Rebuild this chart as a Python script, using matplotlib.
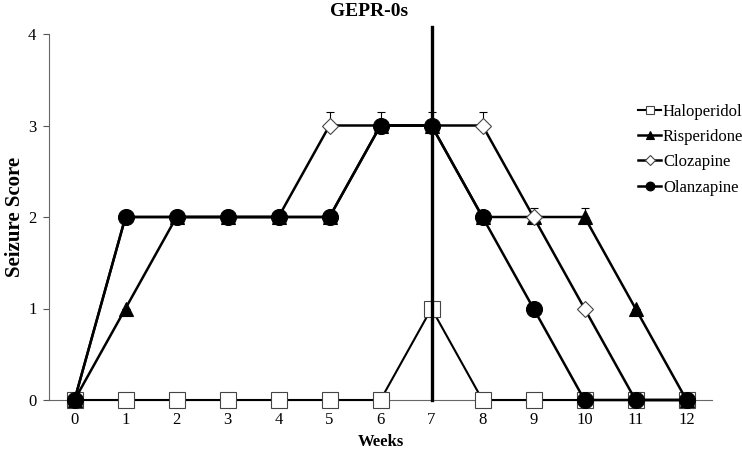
import numpy as np
import matplotlib
matplotlib.use("Agg")
import matplotlib.pyplot as plt

plt.rcParams['font.family'] = ['Liberation Serif', 'DejaVu Serif']

weeks = np.arange(13)
tick_labels = [str(w) for w in weeks]

haloperidol = [0, 0, 0, 0, 0, 0, 0, 1, 0, 0, 0, 0, 0]
risperidone = [0, 1, 2, 2, 2, 2, 3, 3, 2, 2, 2, 1, 0]
clozapine = [0, 2, 2, 2, 2, 3, 3, 3, 3, 2, 1, 0, 0]
olanzapine = [0, 2, 2, 2, 2, 2, 3, 3, 2, 1, 0, 0, 0]

# upper error bars (only the visible caps)
risperidone_err = [0, 0, 0, 0, 0, 0, 0, 0, 0, 0, 0.1, 0, 0]
clozapine_err = [0, 0, 0, 0, 0, 0.15, 0, 0, 0.15, 0.1, 0, 0, 0]
olanzapine_err = [0, 0.08, 0.08, 0.08, 0.08, 0.08, 0.15, 0.15, 0, 0, 0, 0, 0]

switch_week = 7


def main():
    fig = plt.figure(figsize=(7.42, 4.49), dpi=100)
    ax = fig.add_axes([49 / 742, 1 - 400 / 449, (712 - 49) / 742, (400 - 34) / 449])

    series = [
        ("Haloperidol", haloperidol, None, 's', 'white', 11, 1.5),
        ("Risperidone", risperidone, risperidone_err, '^', 'black', 10, 1.8),
        ("Clozapine", clozapine, clozapine_err, 'D', 'white', 8.5, 1.8),
        ("Olanzapine", olanzapine, olanzapine_err, 'o', 'black', 11.5, 1.8),
    ]
    handles = []
    for z, (name, vals, err, mk, fc, ms, lw) in enumerate(series):
        if err is not None:
            ax.errorbar(weeks, vals, yerr=[np.zeros(len(err)), err], fmt='none',
                        ecolor='black', elinewidth=0.8, capsize=3, capthick=0.8,
                        zorder=2 + z, clip_on=False)
        line, = ax.plot(weeks, vals, color='black', lw=lw, marker=mk, markersize=ms,
                        markerfacecolor=fc, markeredgecolor='black' if fc == 'black' else '#444444',
                        markeredgewidth=0.8, zorder=3 + z, clip_on=False, label=name)
        handles.append(line)

    # vertical line marking the switch week
    ax.plot([switch_week, switch_week], [0, 4.08], color='black', lw=2.4,
            zorder=10, clip_on=False)

    ax.set_xlim(-0.5, 12.5)
    ax.set_ylim(0, 4)
    ax.set_xticks(weeks)
    ax.set_xticklabels(tick_labels)
    ax.set_yticks([0, 1, 2, 3, 4])
    ax.tick_params(axis='x', length=0, pad=9, labelsize=12)
    ax.tick_params(axis='y', length=4, width=0.8, color='#555555', pad=5, labelsize=12)
    for s in ['top', 'right']:
        ax.spines[s].set_visible(False)
    for s in ['left', 'bottom']:
        ax.spines[s].set_color('#666666')
        ax.spines[s].set_linewidth(0.8)

    ax.set_xlabel('Weeks', fontsize=12, fontweight='bold', labelpad=4)
    ax.set_ylabel('Seizure Score', fontsize=15, fontweight='bold', labelpad=2)
    fig.text(369 / 742, 1 - 11 / 449, 'GEPR-0s', ha='center', va='center',
             fontsize=14, fontweight='bold')

    fig.legend(handles=handles, loc='upper left', bbox_to_anchor=(638 / 742, 1 - 104 / 449),
               frameon=False, fontsize=12, handlelength=1.4, handletextpad=0.1,
               labelspacing=0.55, borderpad=0, borderaxespad=0, markerscale=0.55)

    fig.savefig('out.png', dpi=100)
    plt.close(fig)


if __name__ == "__main__":
    main()
